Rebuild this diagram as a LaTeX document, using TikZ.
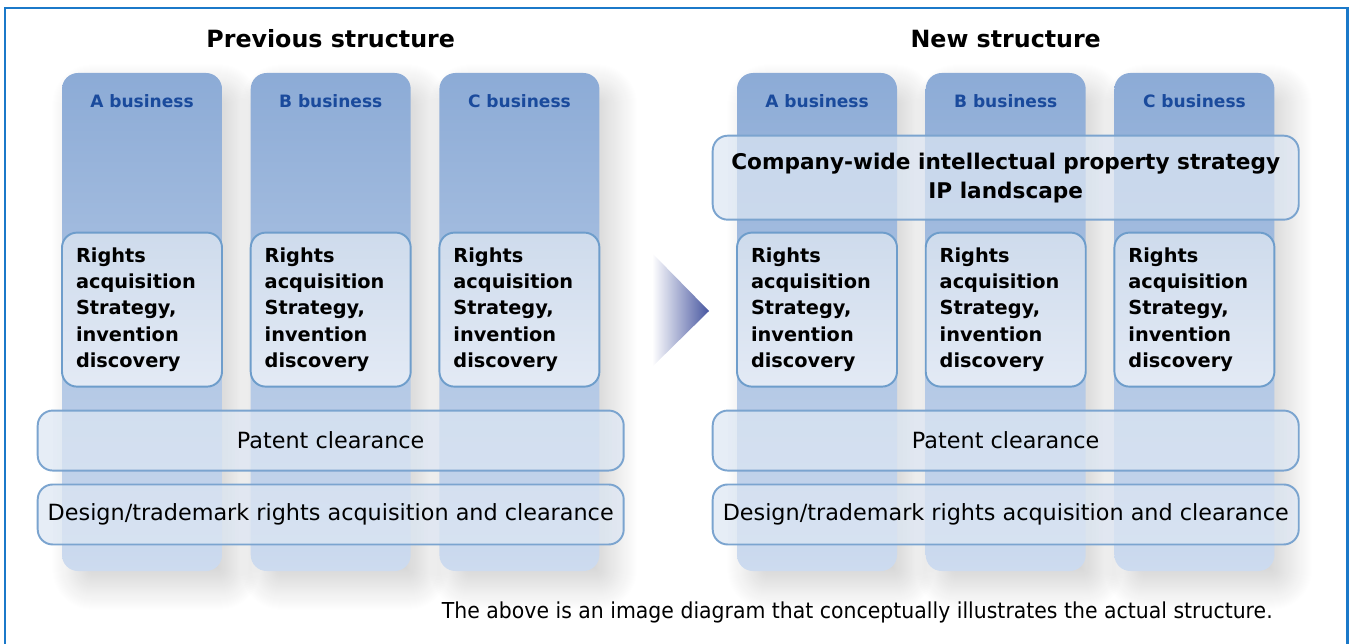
\documentclass[tikz,border=0pt]{standalone}
\usepackage{fontspec}
\setmainfont{DejaVu Sans}
\newfontfamily\notefont[FakeStretch=0.93]{DejaVu Sans}
\usepackage{xcolor}
\usepackage{tikz}
\usetikzlibrary{positioning,shadows.blur}

\definecolor{frameBlue}{HTML}{1B79C9}
\definecolor{colTop}{HTML}{8CABD6}
\definecolor{colBot}{HTML}{CDDBEF}
\definecolor{boxTop}{HTML}{CEDBEC}
\definecolor{boxBot}{HTML}{E3EAF5}
\definecolor{boxLine}{HTML}{6E9DCB}
\definecolor{bandFill}{HTML}{DCE6F3}
\definecolor{bandLine}{HTML}{7BA4CF}
\definecolor{bizBlue}{HTML}{1A4A9C}
\definecolor{arrowBlue}{HTML}{4756A0}

\begin{document}
\begin{tikzpicture}[node distance=0.56cm,
    column/.style={rectangle, rounded corners=0.32cm, minimum width=3.2cm, minimum height=9.96cm, top color=colTop, bottom color=colBot,
        blur shadow={shadow xshift=0.28cm, shadow yshift=-0.3cm, shadow blur radius=0.5cm, shadow blur steps=25, shadow opacity=18}},
    rightsbox/.style={rectangle, rounded corners=0.3cm, draw=boxLine, line width=1.1pt, top color=boxTop, bottom color=boxBot,
        minimum width=3.2cm, minimum height=3.08cm, text width=2.64cm, inner xsep=0.28cm, align=left,
        font=\fontsize{11}{15}\selectfont\bfseries},
    band/.style={rectangle, rounded corners=0.3cm, draw=bandLine, line width=1.1pt, fill=bandFill, fill opacity=0.72, text opacity=1,
        minimum width=11.72cm, minimum height=1.2cm, align=center, font=\fontsize{12.7}{16}\selectfont},
    bizlabel/.style={font=\fontsize{9.7}{12}\selectfont\bfseries, text=bizBlue},
    heading/.style={font=\fontsize{13.5}{16}\selectfont\bfseries},
    note/.style={font=\fontsize{12.5}{14}\selectfont\notefont, inner sep=0pt},
    frame/.style={draw=frameBlue, line width=1.7pt}]

    \useasboundingbox (0,0) rectangle (27,-12.88);

    % Business columns
    \node[column] (pa) at (2.84,-6.44) {};
    \node[column, right=of pa] (pb) {};
    \node[column, right=of pb] (pc) {};
    \node[column] (na) at (16.34,-6.44) {};
    \node[column, right=of na] (nb) {};
    \node[column, right=of nb] (nc) {};

    % Headings
    \node[heading] (ttlp) at (pb.north |- 0,-0.78) {Previous structure};
    \node[heading] (ttln) at (nb.north |- 0,-0.78) {New structure};

    \node[bizlabel] (lpa) at ([yshift=-0.56cm]pa.north) {A business};
    \node[bizlabel] (lpb) at ([yshift=-0.56cm]pb.north) {B business};
    \node[bizlabel] (lpc) at ([yshift=-0.56cm]pc.north) {C business};
    \node[bizlabel] (lna) at ([yshift=-0.56cm]na.north) {A business};
    \node[bizlabel] (lnb) at ([yshift=-0.56cm]nb.north) {B business};
    \node[bizlabel] (lnc) at ([yshift=-0.56cm]nc.north) {C business};

    % Rights acquisition boxes
    \node[rightsbox, below=3.18cm of pa.north] (rpa) {Rights\\acquisition\\Strategy,\\invention\\discovery};
    \node[rightsbox, below=3.18cm of pb.north] (rpb) {Rights\\acquisition\\Strategy,\\invention\\discovery};
    \node[rightsbox, below=3.18cm of pc.north] (rpc) {Rights\\acquisition\\Strategy,\\invention\\discovery};
    \node[rightsbox, below=3.18cm of na.north] (rna) {Rights\\acquisition\\Strategy,\\invention\\discovery};
    \node[rightsbox, below=3.18cm of nb.north] (rnb) {Rights\\acquisition\\Strategy,\\invention\\discovery};
    \node[rightsbox, below=3.18cm of nc.north] (rnc) {Rights\\acquisition\\Strategy,\\invention\\discovery};

    % Bands across the columns
    \node[band, below=0.44cm of rpb] (patp) {Patent clearance};
    \node[band, below=0.24cm of patp] (desp) {Design/trademark rights acquisition and clearance};
    \node[band, below=0.44cm of rnb] (patn) {Patent clearance};
    \node[band, below=0.24cm of patn] (desn) {Design/trademark rights acquisition and clearance};
    \node[band, above=0.22cm of rnb, minimum height=1.68cm, font=\fontsize{12.3}{16.4}\selectfont\bfseries] (ipn)
        {Company-wide intellectual property strategy\\IP landscape};

    % Transition arrow
    \shade[left color=white, right color=arrowBlue] (13.04,-5.06) -- (14.18,-6.22) -- (13.04,-7.34) -- cycle;

    \node[note, anchor=east] (note) at (25.46,-12.24) {The above is an image diagram that conceptually illustrates the actual structure.};

    \draw[frame] (0.1,-13.2) |- (26.94,-0.16) -- (26.94,-13.2);
\end{tikzpicture}
\end{document}
